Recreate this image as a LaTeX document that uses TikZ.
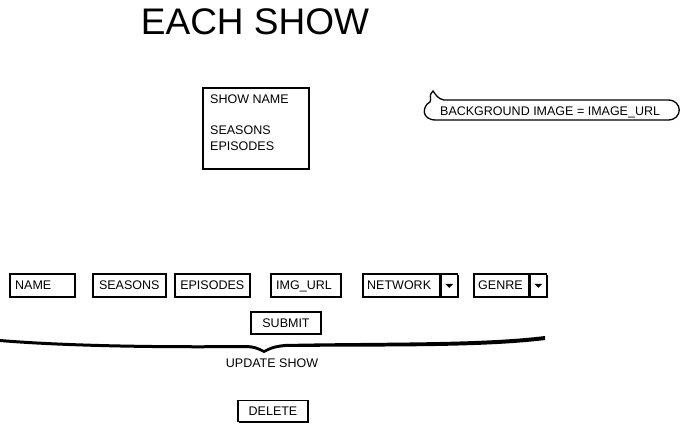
\documentclass[tikz,border=0pt]{standalone}
\usepackage{fontspec}
\setmainfont{Liberation Sans}
\usetikzlibrary{shadows}
\begin{document}
\begin{tikzpicture}[x=1pt,y=-1pt,
  sketch/.style={draw=black,line width=1.5pt,fill=white,
    drop shadow={opacity=1,fill=black,shadow xshift=1.3pt,shadow yshift=-1.3pt}},
  field/.style={sketch,rectangle,minimum height=23pt,inner sep=0pt,
    font=\fontsize{12.5}{14}\selectfont},
  lbl/.style={font=\fontsize{12.5}{15.5}\selectfont,inner sep=0pt}]
\useasboundingbox (0,0) rectangle (686,426);
% title
\node[inner sep=0pt,font=\fontsize{37}{40}\selectfont] (title) at (255,22) {EACH SHOW};
% show box
\node[sketch,rectangle,minimum width=106pt,minimum height=81pt,anchor=north west,inner sep=0pt] (showbox) at (202,87) {};
\node[lbl,anchor=north west,align=left] (showtext) at (210,95) {SHOW NAME\\[15.5pt]SEASONS\\EPISODES};
% callout bubble
\coordinate (tip) at (433,91);
\draw[line width=1.3pt,fill=white] (444,100) -- (668,100) .. controls (683,100) and (683,120) .. (668,120) -- (436,120) .. controls (421,120) and (422,106) .. (430,102) .. controls (432,99) and (428,95) .. (tip) .. controls (436,95) and (438,99) .. cycle;
\node[lbl,anchor=base west] (bg) at (440,115.5) {BACKGROUND IMAGE = IMAGE\_URL};
% fields
\node[field,minimum width=65pt,anchor=north west] (name) at (9,273) {};
\node[lbl,anchor=base west] at (15,289) {NAME};
\node[field,minimum width=73pt,anchor=north west] (seasons) at (92,273) {SEASONS};
\node[field,minimum width=75pt,anchor=north west] (episodes) at (174,273) {EPISODES};
\node[field,minimum width=70pt,anchor=north west] (img) at (270,273) {};
\node[lbl,anchor=base west] at (276,289) {IMG\_URL};
\node[field,minimum width=77pt,anchor=north west] (network) at (362,273) {};
\node[lbl,anchor=base west] at (367,289) {NETWORK};
\node[field,minimum width=16pt,anchor=west] (netdd) at (network.east) {};
\fill (netdd.center) ++(-4,-1.5) -- ++(8,0) -- ++(-4,4) -- cycle;
\node[field,minimum width=55pt,anchor=north west] (genre) at (473,273) {};
\node[lbl,anchor=base west] at (478,289) {GENRE};
\node[field,minimum width=16pt,anchor=west] (gendd) at (genre.east) {};
\fill (gendd.center) ++(-4,-1.5) -- ++(8,0) -- ++(-4,4) -- cycle;
% submit
\node[field,minimum width=70pt,minimum height=22pt] (submit) at (286,323) {SUBMIT};
% brace
\fill (0,339) .. controls (60,344) and (150,346) .. (245,345) .. controls (255,345) and (260,348) .. (264,350) .. controls (268,348) and (273,345) .. (285,344) .. controls (380,342) and (480,344) .. (545,336)
  -- (545,340) .. controls (480,348) and (380,346) .. (285,347) .. controls (273,348) and (268,351) .. (264,353) .. controls (260,351) and (255,348) .. (245,348) .. controls (150,349) and (60,347) .. (0,342) -- cycle;
\node[lbl] (update) at (272,363.5) {UPDATE SHOW};
% delete
\node[field,minimum width=70pt,minimum height=21pt] (delete) at (273,411) {DELETE};
\end{tikzpicture}
\end{document}
